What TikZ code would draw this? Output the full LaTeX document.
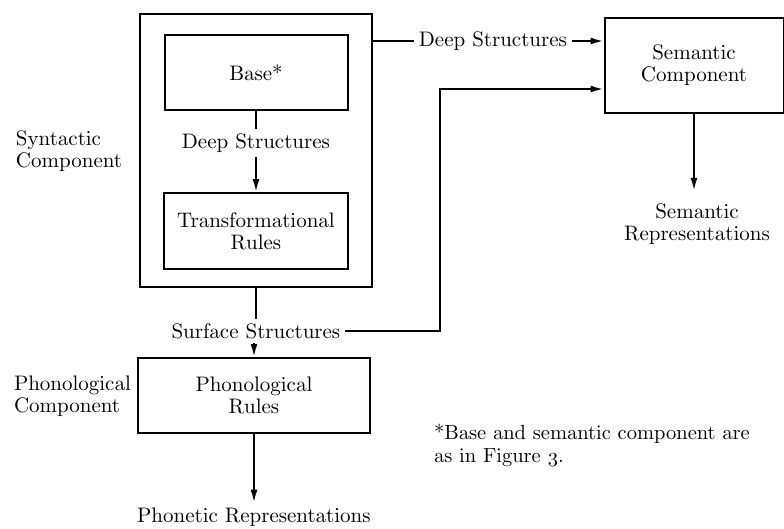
\documentclass[tikz,border=0pt]{standalone}
\usetikzlibrary{arrows.meta}
\font\dfont=cmr10 at 21pt
\font\fnfont=cmr10 at 20.5pt
\font\osfont=cmmi10 at 20.5pt
\begin{document}
\begin{tikzpicture}[x=1pt,y=-1pt,
  line width=2pt,
  box/.style={draw, line width=2pt, inner sep=0pt, font={\dfont\baselineskip=22pt}, align=center},
  lbl/.style={inner sep=4pt, font={\dfont\baselineskip=22pt}, align=center},
  side/.style={inner sep=0pt, font={\dfont\baselineskip=22pt}, align=left, anchor=west},
  arr/.style={-{Latex[length=13pt,width=7pt]}}]
\useasboundingbox (0,0) rectangle (784,528);
% boxes
\node[box, minimum width=232pt, minimum height=273pt] (outer) at (256,150.5) {};
\node[box, minimum width=183pt, minimum height=75pt] (base) at (256,72.5) {Base*};
\node[box, minimum width=184pt, minimum height=76pt] (trans) at (256,231) {Transformational\\Rules};
\node[box, minimum width=179pt, minimum height=95pt] (sem) at (694,65.5) {Semantic\\Component};
\node[box, minimum width=232pt, minimum height=75pt] (phon) at (254,395.5) {Phonological\\Rules};
% labels
\node[lbl] (dsin) at (256,143) {Deep Structures};
\node[lbl] (ds) at (493,41) {Deep Structures};
\node[lbl] (ss) at (256,331) {Surface Structures};
\node[lbl] (sr) at (697,224) {Semantic\\Representations};
\node[lbl] (pr) at (254,517) {Phonetic Representations};
\node[side] (syn) at (15,151) {Syntactic\\Component};
\node[side] (phc) at (13,396) {Phonological\\Component};
\node[side, font={\fnfont\baselineskip=23pt}] (fn) at (433,445.5) {*Base and semantic component are\\as in Figure {\osfont 3}.};
\coordinate (turn) at (440,89);
% connectors
\draw (base.south) -- (dsin.north);
\draw[arr] (dsin.south) -- (trans.north);
\draw (ds.west -| outer.east) -- (ds.west);
\draw[arr] (ds.east) -- (ds.east -| sem.west);
\draw (outer.south) -- (ss.north);
\draw[arr] (ss.south -| phon.north) -- (phon.north);
\draw[arr] (ss.east) -| (turn) -- (turn -| sem.west);
\draw[arr, shorten >=8pt] (sem.south) -- (sem.south |- sr.north);
\draw[arr] (phon.south) -- (pr.north);
\end{tikzpicture}
\end{document}
